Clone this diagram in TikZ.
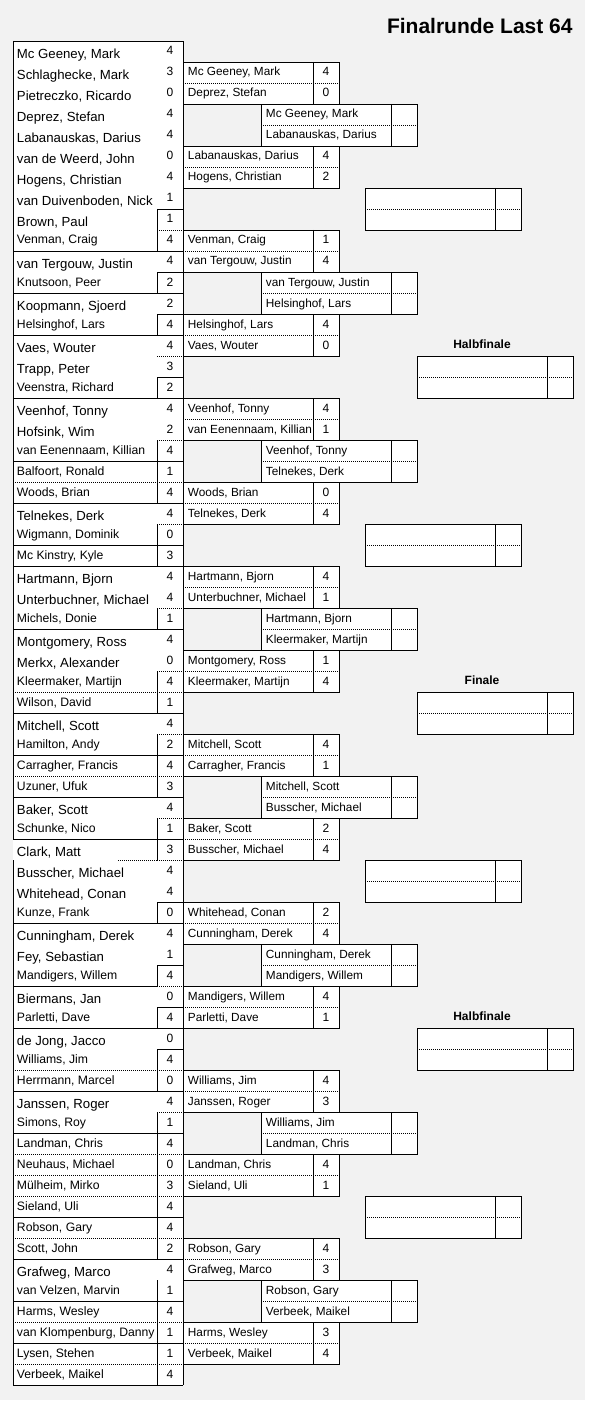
\documentclass[tikz,border=0pt]{standalone}
\usepackage{fontspec}
\setmainfont{Liberation Sans}

\begin{document}
\begin{tikzpicture}[x=1bp,y=-1bp,line width=0.9bp]
    \tikzset{
      nameB/.style={anchor=base west, inner sep=0pt, yshift=3.5bp, font=\fontsize{13.2bp}{15bp}\selectfont},
      nameS/.style={anchor=base west, inner sep=0pt, yshift=7bp, font=\fontsize{12.2bp}{14bp}\selectfont},
      nameR/.style={anchor=base west, inner sep=0pt, yshift=7bp, font=\fontsize{11.8bp}{14bp}\selectfont},
      score/.style={anchor=base, inner sep=0pt, yshift=7bp, font=\fontsize{12bp}{14bp}\selectfont},
      head/.style={anchor=base, inner sep=0pt, yshift=7.5bp, font=\bfseries\fontsize{12bp}{14bp}\selectfont},
      bS/.style={draw=black},
      bD/.style={draw=black, dash pattern=on 1bp off 1bp},
      bN/.style={draw=none},
      box/.style={fill=white, draw=black}
    }
    \useasboundingbox (0,0) rectangle (594,1409);
    \fill[white] (0,0) rectangle (594,1409);
    \fill[black!5] (0,0) rectangle (585,1400);
    \node[anchor=base east, inner sep=0pt, font=\bfseries\fontsize{21bp}{23bp}\selectfont] (title) at (573,34) {Finalrunde Last 64};
    \fill[white] (13,41) rectangle (183,1385);
    \foreach \r/\nm/\sc/\f/\a/\b/\l in {
      1/{Mc Geeney, Mark}/4/B/N/N/N, 2/{Schlaghecke, Mark}/3/B/N/N/N,
      3/{Pietreczko, Ricardo}/0/B/N/N/N, 4/{Deprez, Stefan}/4/B/N/N/N,
      5/{Labanauskas, Darius}/4/B/N/N/N, 6/{van de Weerd, John}/0/B/N/N/N,
      7/{Hogens, Christian}/4/B/N/N/N, 8/{van Duivenboden, Nick}/1/B/N/S/N,
      9/{Brown, Paul}/1/B/N/D/S, 10/{Venman, Craig}/4/S/S/S/S,
      11/{van Tergouw, Justin}/4/B/N/S/N, 12/{Knutsoon, Peer}/2/S/S/S/S,
      13/{Koopmann, Sjoerd}/2/B/N/S/N, 14/{Helsinghof, Lars}/4/S/S/S/S,
      15/{Vaes, Wouter}/4/B/N/D/N, 16/{Trapp, Peter}/3/B/N/S/N,
      17/{Veenstra, Richard}/2/S/S/S/S, 18/{Veenhof, Tonny}/4/B/N/N/N,
      19/{Hofsink, Wim}/2/B/N/D/N, 20/{van Eenennaam, Killian}/4/S/S/S/S,
      21/{Balfoort, Ronald}/1/S/D/D/S, 22/{Woods, Brian}/4/S/S/S/S,
      23/{Telnekes, Derk}/4/B/N/D/N, 24/{Wigmann, Dominik}/0/S/S/S/S,
      25/{Mc Kinstry, Kyle}/3/S/S/S/S, 26/{Hartmann, Bjorn}/4/B/N/N/N,
      27/{Unterbuchner, Michael}/4/B/N/D/N, 28/{Michels, Donie}/1/S/S/S/S,
      29/{Montgomery, Ross}/4/B/N/N/N, 30/{Merkx, Alexander}/0/B/N/D/N,
      31/{Kleermaker, Martijn}/4/S/D/D/S, 32/{Wilson, David}/1/S/S/S/S,
      33/{Mitchell, Scott}/4/B/N/D/N, 34/{Hamilton, Andy}/2/S/S/S/S,
      35/{Carragher, Francis}/4/S/D/D/S, 36/{Uzuner, Ufuk}/3/S/S/S/S,
      37/{Baker, Scott}/4/B/N/D/N, 38/{Schunke, Nico}/1/S/S/S/S,
      39/{Clark, Matt}/3/B/N/D/S, 40/{Busscher, Michael}/4/B/N/N/N,
      41/{Whitehead, Conan}/4/B/N/S/N, 42/{Kunze, Frank}/0/S/S/S/S,
      43/{Cunningham, Derek}/4/B/N/N/N, 44/{Fey, Sebastian}/1/B/N/S/N,
      45/{Mandigers, Willem}/4/S/S/D/S, 46/{Biermans, Jan}/0/B/N/S/N,
      47/{Parletti, Dave}/4/S/S/S/S, 48/{de Jong, Jacco}/0/B/N/S/N,
      49/{Williams, Jim}/4/S/D/D/S, 50/{Herrmann, Marcel}/0/S/S/S/S,
      51/{Janssen, Roger}/4/B/N/D/N, 52/{Simons, Roy}/1/S/S/S/S,
      53/{Landman, Chris}/4/S/D/D/S, 54/{Neuhaus, Michael}/0/S/D/D/S,
      55/{Mülheim, Mirko}/3/S/D/D/S, 56/{Sieland, Uli}/4/S/S/S/S,
      57/{Robson, Gary}/4/S/D/D/S, 58/{Scott, John}/2/S/S/S/S,
      59/{Grafweg, Marco}/4/B/N/N/N, 60/{van Velzen, Marvin}/1/S/S/S/S,
      61/{Harms, Wesley}/4/S/D/D/S, 62/{van Klompenburg, Danny}/1/S/S/S/S,
      63/{Lysen, Stehen}/1/S/D/D/S, 64/{Verbeek, Maikel}/4/S/S/S/S} {
      \pgfmathsetmacro\yb{41+21*\r}
      \node[name\f] (p\r) at (16.5,\yb) {\nm};
      \node[score] (ps\r) at (170,\yb) {\sc};
      \draw[b\a] (13,\yb) -- (157,\yb);
      \draw[b\b] (157,\yb) -- (183,\yb);
      \draw[b\l] (157,\yb-21) -- (157,\yb);
    }
    \draw[bD] (118,860) -- (157,860);
    \draw (13,41) -- (183,41) -- (183,1385);
    \draw (13,41) -- (13,839) (13,860) -- (13,1385);
    % second round
    \foreach \k/\ta/\sa/\tb/\sb in {
      0/{Mc Geeney, Mark}/4/{Deprez, Stefan}/0,
      1/{Labanauskas, Darius}/4/{Hogens, Christian}/2,
      2/{Venman, Craig}/1/{van Tergouw, Justin}/4,
      3/{Helsinghof, Lars}/4/{Vaes, Wouter}/0,
      4/{Veenhof, Tonny}/4/{van Eenennaam, Killian}/1,
      5/{Woods, Brian}/0/{Telnekes, Derk}/4,
      6/{Hartmann, Bjorn}/4/{Unterbuchner, Michael}/1,
      7/{Montgomery, Ross}/1/{Kleermaker, Martijn}/4,
      8/{Mitchell, Scott}/4/{Carragher, Francis}/1,
      9/{Baker, Scott}/2/{Busscher, Michael}/4,
      10/{Whitehead, Conan}/2/{Cunningham, Derek}/4,
      11/{Mandigers, Willem}/4/{Parletti, Dave}/1,
      12/{Williams, Jim}/4/{Janssen, Roger}/3,
      13/{Landman, Chris}/4/{Sieland, Uli}/1,
      14/{Robson, Gary}/4/{Grafweg, Marco}/3,
      15/{Harms, Wesley}/3/{Verbeek, Maikel}/4} {
      \pgfmathsetmacro\yt{41+21*(4*\k+1)}
      \draw[box] (183,\yt) rectangle (339,\yt+42);
      \draw[bD] (183,\yt+21) -- (339,\yt+21);
      \draw (313,\yt) -- (313,\yt+42);
      \node[nameR] (ma\k) at (187.5,\yt+21) {\ta};
      \node[nameR] (mb\k) at (187.5,\yt+42) {\tb};
      \node[score] (msa\k) at (326,\yt+21) {\sa};
      \node[score] (msb\k) at (326,\yt+42) {\sb};
    }
    % third round
    \foreach \k/\ta/\tb in {
      0/{Mc Geeney, Mark}/{Labanauskas, Darius},
      1/{van Tergouw, Justin}/{Helsinghof, Lars},
      2/{Veenhof, Tonny}/{Telnekes, Derk},
      3/{Hartmann, Bjorn}/{Kleermaker, Martijn},
      4/{Mitchell, Scott}/{Busscher, Michael},
      5/{Cunningham, Derek}/{Mandigers, Willem},
      6/{Williams, Jim}/{Landman, Chris},
      7/{Robson, Gary}/{Verbeek, Maikel}} {
      \pgfmathsetmacro\yt{41+21*(8*\k+3)}
      \draw[box] (261,\yt) rectangle (417,\yt+42);
      \draw[bD] (261,\yt+21) -- (417,\yt+21);
      \draw (391,\yt) -- (391,\yt+42);
      \node[nameR] (qa\k) at (265.5,\yt+21) {\ta};
      \node[nameR] (qb\k) at (265.5,\yt+42) {\tb};
    }
    % empty boxes
    \foreach \k in {0,...,3} {
      \pgfmathsetmacro\yt{41+21*(16*\k+7)}
      \draw[box] (365,\yt) rectangle (521,\yt+42);
      \draw[bD] (365,\yt+21) -- (521,\yt+21);
      \draw (495,\yt) -- (495,\yt+42);
    }
    \foreach \r/\lbl/\id in {15/Halbfinale/h1, 31/Finale/f, 47/Halbfinale/h2} {
      \pgfmathsetmacro\yt{41+21*\r}
      \node[head] (\id) at (482,\yt) {\lbl};
      \draw[box] (417,\yt) rectangle (573,\yt+42);
      \draw[bD] (417,\yt+21) -- (573,\yt+21);
      \draw (547,\yt) -- (547,\yt+42);
    }
\end{tikzpicture}
\end{document}
